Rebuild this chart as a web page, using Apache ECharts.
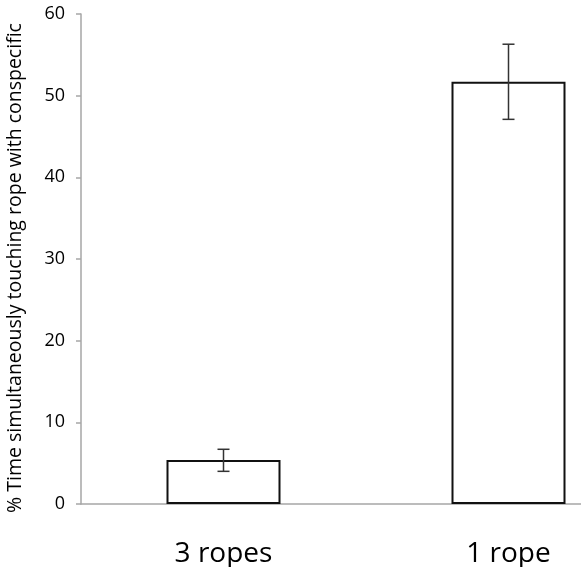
<!DOCTYPE html>
<html>
<head>
<meta charset="utf-8">
<script src="https://cdn.jsdelivr.net/npm/echarts@6/dist/echarts.min.js"></script>
<style>
  html, body { margin: 0; padding: 0; background: #fff; overflow: hidden; }
  /* wider than the window: the plot runs off the right edge like the original */
  #chart { width: 651px; height: 567px; }
</style>
</head>
<body>
<div id="chart"></div>
<script>
  let categories = ["3 ropes", "1 rope"];
  let means = [5.4, 51.7];
  let errLow = [4.0, 47.1];
  let errHigh = [6.7, 56.3];
  let yTicks = [0, 10, 20, 30, 40, 50, 60];

  let chart = echarts.init(document.getElementById("chart"));

  let errData = [];
  for (let i = 0; i < categories.length; i++) {
    errData.push([i, errLow[i], errHigh[i]]);
  }

  let option = {
    animation: false,
    grid: { left: 81, top: 14, bottom: 63, right: 0, outerBoundsMode: "none" },
    xAxis: {
      type: "category",
      data: categories,
      axisLine: { lineStyle: { color: "#a6a6a6", width: 1.5 } },
      axisTick: { length: 11, lineStyle: { color: "#a6a6a6", width: 1.5 } },
      axisLabel: {
        margin: 36,
        fontSize: 28,
        color: "#000",
        fontFamily: "Open Sans",
      },
    },
    yAxis: {
      type: "value",
      min: yTicks[0],
      max: yTicks[yTicks.length - 1],
      interval: 10,
      name: "% Time simultaneously touching rope with conspecific",
      nameLocation: "middle",
      nameRotate: 90,
      nameGap: 56,
      nameTextStyle: {
        fontSize: 19.5,
        color: "#000",
        fontFamily: "Open Sans",
        padding: [0, 18, 0, 0],
      },
      splitLine: { show: false },
      axisLine: { show: true, lineStyle: { color: "#a6a6a6", width: 1.5 } },
      axisTick: { show: true, length: 5, lineStyle: { color: "#a6a6a6", width: 1.5 } },
      axisLabel: { fontSize: 18, color: "#000", margin: 16, fontFamily: "Open Sans" },
    },
    series: [
      {
        type: "bar",
        data: means,
        barWidth: 114,
        itemStyle: { color: "#fff", borderColor: "#111", borderWidth: 2 },
      },
      {
        type: "custom",
        data: errData,
        z: 5,
        renderItem: function (params, api) {
          let x = api.value(0);
          let lo = api.coord([x, api.value(1)]);
          let hi = api.coord([x, api.value(2)]);
          let half = 6;
          let style = { stroke: "#333", lineWidth: 1.5 };
          return {
            type: "group",
            children: [
              { type: "line", shape: { x1: lo[0], y1: lo[1], x2: hi[0], y2: hi[1] }, style: style },
              { type: "line", shape: { x1: lo[0] - half, y1: lo[1], x2: lo[0] + half, y2: lo[1] }, style: style },
              { type: "line", shape: { x1: hi[0] - half, y1: hi[1], x2: hi[0] + half, y2: hi[1] }, style: style },
            ],
          };
        },
      },
    ],
  };
  chart.setOption(option);
</script>
</body>
</html>
